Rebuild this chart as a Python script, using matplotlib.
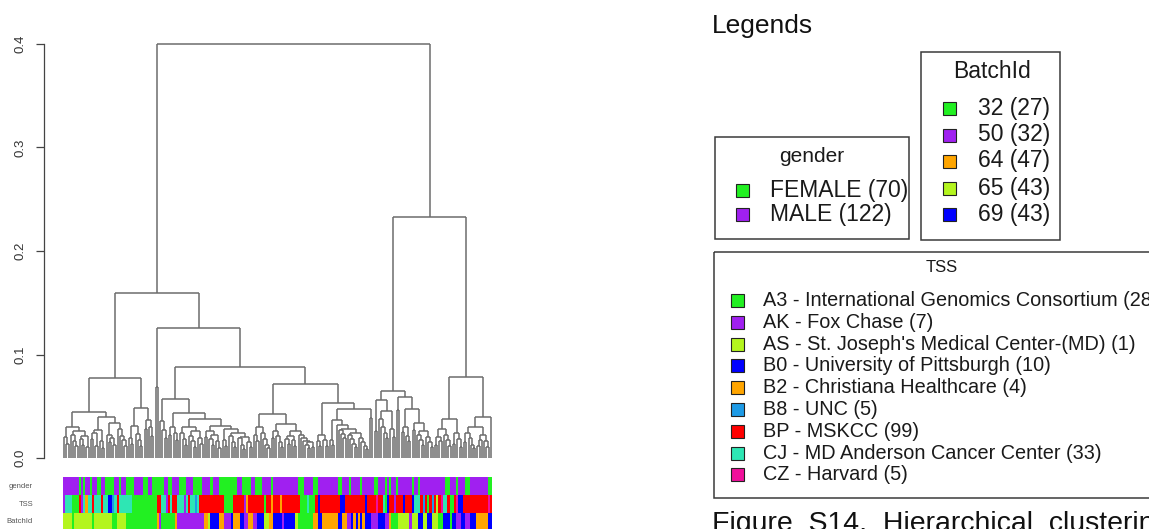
import matplotlib
matplotlib.use("Agg")
import matplotlib.pyplot as plt
from matplotlib.patches import Rectangle
from matplotlib.colors import to_rgb
import numpy as np

plt.rcParams['font.family'] = ['Liberation Sans', 'DejaVu Sans']

W, H = 1149, 529

# ---------------------------------------------------------------------------
# Dendrogram: merge height between each pair of neighbouring leaves (left to
# right).  Low-level blocks and the joins between them.
# ---------------------------------------------------------------------------
blk_A = [0.020, 0.014, 0.030, 0.022, 0.016, 0.012, 0.026, 0.018, 0.013, 0.021, 0.011]
blk_B = [0.018, 0.024, 0.012, 0.027, 0.016, 0.010, 0.040, 0.022, 0.015, 0.019,
         0.013, 0.034, 0.028, 0.021, 0.017, 0.012]
blk_C = [0.019, 0.014, 0.031, 0.023, 0.017, 0.012]
blk_D = [0.028, 0.037, 0.030, 0.021]
blk_E = [0.036, 0.027, 0.019]
blk_F = [0.022, 0.030, 0.024, 0.017]
blk_G = [0.024, 0.018, 0.013, 0.030, 0.021, 0.016, 0.011, 0.026, 0.019, 0.014]
blk_H1 = [0.020, 0.026, 0.018, 0.013, 0.022, 0.016, 0.010]
blk_H2 = [0.017, 0.012, 0.028, 0.021, 0.015, 0.011, 0.024, 0.019, 0.013, 0.009,
          0.020, 0.015, 0.011]
blk_I = [0.022, 0.016, 0.030, 0.024, 0.018, 0.013, 0.010]
blk_J1 = [0.019, 0.026, 0.021, 0.015, 0.011]
blk_J2 = [0.018, 0.014, 0.021, 0.017, 0.012, 0.026, 0.022, 0.019, 0.016, 0.013,
          0.010, 0.015, 0.011]
blk_K1 = [0.016, 0.012, 0.022, 0.017, 0.012]
blk_K2 = [0.017, 0.013, 0.037, 0.032, 0.027, 0.023, 0.019, 0.028, 0.022, 0.018,
          0.014, 0.011, 0.024, 0.019, 0.015, 0.012, 0.009]
blk_RL1 = [0.026, 0.056, 0.038, 0.030, 0.024, 0.019, 0.045, 0.028, 0.020]
blk_RL2 = [0.046, 0.059, 0.025, 0.030, 0.021, 0.016, 0.047, 0.027, 0.034, 0.022,
           0.017, 0.013, 0.026, 0.020, 0.015, 0.011]
blk_RR1 = [0.013, 0.020, 0.016, 0.028, 0.022, 0.017, 0.012, 0.0375, 0.014, 0.024,
           0.018, 0.011]
blk_RR2 = [0.015, 0.024, 0.019, 0.013, 0.010, 0.030, 0.012, 0.017, 0.022, 0.016,
           0.011, 0.040]

gaps = (blk_A + [0.0447] + blk_B + [0.0776] + blk_C + [0.048] + blk_D
        + [0.159, 0.069, 0.126] + blk_E + [0.057] + blk_F + [0.043] + blk_G
        + [0.038] + blk_H1 + [0.031] + blk_H2 + [0.0876] + blk_I + [0.0425]
        + blk_J1 + [0.033] + blk_J2 + [0.0715] + blk_K1 + [0.053] + blk_K2
        + [0.047, 0.039, 0.400] + blk_RL1 + [0.0647] + blk_RL2 + [0.2326]
        + blk_RR1 + [0.0786] + blk_RR2)

# ---------------------------------------------------------------------------
# Annotation tracks (one code per leaf, run-length encoded)
# ---------------------------------------------------------------------------
gender_runs = [
    ("M", 7), ("F", 1), ("M", 1), ("F", 1), ("M", 2), ("F", 1), ("M", 2), ("F", 2),
    ("M", 2), ("F", 4), ("M", 2), ("F", 1), ("M", 2), ("F", 4), ("M", 4), ("F", 2),
    ("M", 2), ("F", 5), ("M", 2), ("F", 2), ("M", 3), ("F", 3), ("M", 3), ("F", 4),
    ("M", 1),
    ("M", 3), ("F", 1), ("M", 3), ("F", 8), ("M", 2), ("F", 4), ("M", 2), ("F", 3),
    ("M", 4), ("F", 1), ("M", 11), ("F", 3), ("M", 4), ("F", 2), ("M", 9), ("F", 2),
    ("M", 3), ("F", 1),
    ("M", 4), ("F", 1), ("M", 5), ("F", 2), ("M", 3), ("F", 1), ("M", 1), ("F", 1),
    ("M", 2), ("F", 1), ("M", 6), ("F", 1), ("M", 2), ("F", 1), ("M", 11), ("F", 2),
    ("M", 3), ("F", 1), ("M", 3), ("F", 2), ("M", 8), ("F", 2),
]
tss_runs = [
    ("k", 1), ("j", 3), ("a", 3), ("p", 1), ("k", 1), ("j", 1), ("o", 1), ("j", 2),
    ("p", 1), ("j", 3), ("p", 1), ("j", 2), ("b", 2), ("u", 1), ("j", 1), ("p", 1),
    ("j", 6), ("a", 11), ("p", 2), ("j", 2), ("k", 1), ("p", 1), ("j", 1), ("p", 2),
    ("j", 3), ("k", 1), ("j", 1), ("p", 1), ("j", 2), ("u", 1), ("j", 1), ("p", 2),
    ("p", 9), ("a", 4), ("p", 5), ("k", 1), ("o", 1), ("p", 7), ("a", 1), ("p", 2),
    ("o", 1), ("p", 3), ("o", 1), ("p", 8), ("a", 3), ("j", 1), ("a", 3), ("p", 1),
    ("b", 1), ("p", 9), ("b", 2), ("p", 3),
    ("p", 6), ("b", 1), ("p", 4), ("z", 1), ("p", 2), ("j", 1), ("a", 1), ("b", 1),
    ("p", 2), ("k", 1), ("p", 3), ("b", 1), ("p", 3), ("b", 1), ("j", 3), ("p", 1),
    ("u", 1), ("p", 1), ("a", 1), ("p", 1), ("u", 1), ("p", 1), ("s", 1), ("p", 1),
    ("z", 1), ("j", 2), ("p", 1), ("a", 2), ("p", 1), ("z", 1), ("b", 2), ("p", 11),
    ("z", 1), ("p", 1),
]
batch_runs = [
    ("y", 4), ("g", 1), ("y", 8), ("g", 1), ("y", 8), ("g", 2), ("y", 4), ("g", 14),
    ("o", 1), ("p", 1), ("g", 6), ("o", 1), ("p", 12),
    ("o", 2), ("y", 1), ("b", 4), ("o", 2), ("p", 3), ("b", 1), ("o", 3), ("b", 2),
    ("p", 2), ("o", 2), ("p", 2), ("b", 3), ("y", 2), ("o", 2), ("b", 4), ("p", 1),
    ("b", 5), ("y", 1), ("g", 7), ("o", 2), ("b", 2), ("o", 7), ("b", 2), ("o", 2),
    ("p", 2),
    ("b", 1), ("o", 1), ("b", 1), ("o", 1), ("b", 1), ("o", 1), ("b", 3), ("p", 3),
    ("b", 3), ("p", 2), ("o", 1), ("g", 3), ("y", 5), ("p", 1), ("y", 3), ("b", 2),
    ("y", 2), ("b", 2), ("y", 3), ("g", 2), ("b", 3), ("g", 1), ("b", 2), ("p", 2),
    ("b", 2), ("p", 2), ("b", 3), ("o", 5), ("b", 2),
]

# Legend contents
gender_codes = ["F", "M"]
gender_labels = ["FEMALE", "MALE"]
gender_counts = [70, 122]
gender_colors = ["#22F022", "#A020F0"]

batch_codes = ["g", "p", "o", "y", "b"]
batch_labels = ["32", "50", "64", "65", "69"]
batch_counts = [27, 32, 47, 43, 43]
batch_colors = ["#22F022", "#A020F0", "#FFA500", "#B4F51E", "#0000FF"]

tss_codes = ["a", "k", "s", "b", "o", "u", "p", "j", "z"]
tss_labels = ["A3 - International Genomics Consortium", "AK - Fox Chase",
              "AS - St. Joseph's Medical Center-(MD)", "B0 - University of Pittsburgh",
              "B2 - Christiana Healthcare", "B8 - UNC", "BP - MSKCC",
              "CJ - MD Anderson Cancer Center", "CZ - Harvard"]
tss_counts = [28, 7, 1, 10, 4, 5, 99, 33, 5]
tss_colors = ["#22F022", "#A020F0", "#B4F51E", "#0000FF", "#FFA500",
              "#1E9BE6", "#FF0000", "#2EE6B4", "#F0109B"]

yticks = [0.0, 0.1, 0.2, 0.3, 0.4]
track_names = ["gender", "TSS", "BatchId"]


def expand(runs):
    out = []
    for code, n in runs:
        out.extend([code] * n)
    return out


def build(lo, hi, segs):
    """Recursively split the leaf range at its highest neighbour gap."""
    if lo == hi:
        return float(lo), 0.0
    k = lo + int(np.argmax(gaps[lo:hi]))
    h = gaps[k]
    xl, hl = build(lo, k, segs)
    xr, hr = build(k + 1, hi, segs)
    segs.append(((xl, xl), (hl, h)))
    segs.append(((xr, xr), (hr, h)))
    segs.append(((xl, xr), (h, h)))
    return (xl + xr) / 2.0, h


n_leaves = len(gaps) + 1
fig = plt.figure(figsize=(W / 100, H / 100), dpi=100)


def px_axes(x0, y0, x1, y1):
    return fig.add_axes([x0 / W, (H - y1) / H, (x1 - x0) / W, (y1 - y0) / H])


# --- dendrogram -----------------------------------------------------------
ax = px_axes(63, 44, 492, 458)
segs = []
build(0, n_leaves - 1, segs)
for xs, ys in segs:
    ax.plot(xs, ys, color="#6c6c6c", lw=1.1, solid_capstyle="butt", clip_on=False)
ax.set_xlim(-0.5, n_leaves - 0.5)
ax.set_ylim(0, 0.4)
for s in ("top", "right", "bottom"):
    ax.spines[s].set_visible(False)
ax.spines["left"].set_position(("outward", 13.7))
ax.spines["left"].set_bounds(0, 0.4)
ax.spines["left"].set_color("#444444")
ax.spines["left"].set_linewidth(0.9)
ax.set_xticks([])
ax.set_yticks(yticks)
ax.set_yticklabels([f"{v:.1f}" for v in yticks], rotation=90, va="center",
                   fontsize=9.5, color="#333333")
ax.tick_params(axis="y", length=5.5, width=0.9, color="#444444", pad=7)
ax.patch.set_alpha(0)

# --- annotation tracks ----------------------------------------------------
track_maps = [
    (expand(gender_runs), dict(zip(gender_codes, gender_colors))),
    (expand(tss_runs), dict(zip(tss_codes, tss_colors))),
    (expand(batch_runs), dict(zip(batch_codes, batch_colors))),
]
img = np.array([[to_rgb(cmap[c]) for c in codes] for codes, cmap in track_maps])
axc = px_axes(63, 477, 492, 530.5)
axc.imshow(img, aspect="auto", interpolation="nearest",
           extent=(-0.5, n_leaves - 0.5, 3, 0))
axc.axis("off")

# --- overlay in pixel coordinates for texts and legends ------------------
ov = fig.add_axes([0, 0, 1, 1])
ov.set_xlim(0, W)
ov.set_ylim(H, 0)
ov.axis("off")

for name, yc in zip(track_names, [486, 504, 521.5]):
    ov.text(33, yc, name, ha="right", va="center", fontsize=5.5, color="#555555")

ov.text(712, 33, "Legends", ha="left", va="baseline", fontsize=19, color="#111111")


def draw_legend(box, title, title_xy, title_size, labels, counts, colors,
                sq_x, text_x, row_y, text_size, sq=13):
    x0, y0, x1, y1 = box
    ov.add_patch(Rectangle((x0, y0), x1 - x0, y1 - y0, fill=False,
                           ec="#3a3a3a", lw=1.1, clip_on=False))
    ov.text(title_xy[0], title_xy[1], title, ha="center", va="center",
            fontsize=title_size, color="#1a1a1a")
    for lab, n, c, y in zip(labels, counts, colors, row_y):
        ov.add_patch(Rectangle((sq_x - sq / 2, y - sq / 2), sq, sq, fc=c,
                               ec="#222222", lw=0.8))
        ov.text(text_x, y, f"{lab} ({n})", ha="left", va="center",
                fontsize=text_size, color="#1a1a1a")


draw_legend((715, 137, 909, 239), "gender", (812, 157), 15,
            gender_labels, gender_counts, gender_colors,
            742, 770, [190, 214], 16.5)
draw_legend((921, 52, 1060, 240), "BatchId", (992, 72), 16.5,
            batch_labels, batch_counts, batch_colors,
            949, 978, [108, 135, 161, 188, 214], 16.5)
draw_legend((714, 252, 1170, 498), "TSS", (942, 268), 12,
            tss_labels, tss_counts, tss_colors,
            737.5, 763, [300.5 + 21.8 * i for i in range(9)], 14.3)

ov.text(712, 511, "Figure  S14.  Hierarchical  clustering  of  samples",
        ha="left", va="top", fontsize=20.5, color="#111111")

fig.savefig("out.png", dpi=100)
